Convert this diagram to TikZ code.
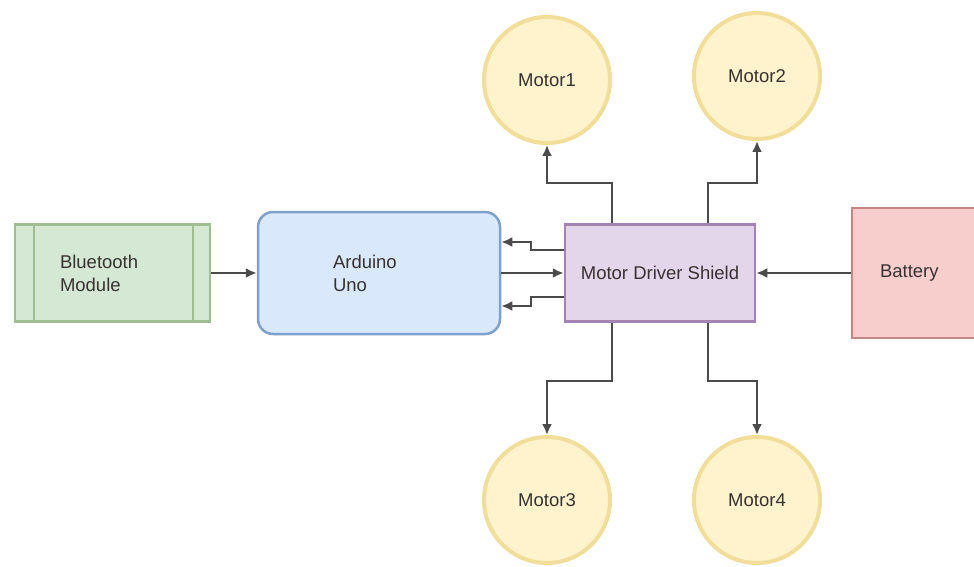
\documentclass[tikz,border=0pt]{standalone}
\usepackage{fontspec}
\setmainfont{Liberation Sans}
\usepackage{xcolor}
\definecolor{GreenFill}{RGB}{213,232,212}
\definecolor{GreenLine}{RGB}{160,190,145}
\definecolor{BlueFill}{RGB}{218,232,252}
\definecolor{BlueLine}{RGB}{125,160,205}
\definecolor{PurpleFill}{RGB}{228,214,234}
\definecolor{PurpleLine}{RGB}{165,130,180}
\definecolor{RedFill}{RGB}{248,206,204}
\definecolor{RedLine}{RGB}{195,135,132}
\definecolor{YellowFill}{RGB}{255,243,206}
\definecolor{YellowLine}{RGB}{242,222,155}
\definecolor{TextCol}{RGB}{55,50,50}
\definecolor{EdgeCol}{RGB}{75,75,75}
\usepackage{tikz}
\usetikzlibrary{arrows.meta}
\tikzstyle{Label}=[font=\fontsize{18.5}{23}\selectfont,text=TextCol]
\tikzstyle{Block}=[Label,rectangle,line width=2.5pt,align=left,inner ysep=0pt]
\tikzstyle{Motor}=[Label,circle,draw=YellowLine,fill=YellowFill,line width=4pt,
minimum size=126pt,inner sep=0pt]
\tikzstyle{Edge}=[draw=EdgeCol,line width=2.2pt,-{Latex[length=11pt,width=10pt]}]

\begin{document}
\begin{tikzpicture}[x=1pt,y=1pt]
        \useasboundingbox(0,0)rectangle(974,566);
        \node[Block,draw=GreenLine,fill=GreenFill,text width=105pt,inner xsep=45pt,
            minimum height=97pt](BT)at(112.5,293){Bluetooth\\Module};
        \draw[GreenLine,line width=2pt]([xshift=20pt]BT.north west)
            --([xshift=20pt]BT.south west);
        \draw[GreenLine,line width=2pt]([xshift=-18pt]BT.north east)
            --([xshift=-18pt]BT.south east);
        \node[Block,draw=BlueLine,fill=BlueFill,rounded corners=15pt,text width=92pt,
            inner xsep=75pt,minimum height=122pt](ARD)at(379,293){Arduino\\Uno};
        \node[Block,draw=PurpleLine,fill=PurpleFill,align=center,inner xsep=0pt,
            minimum width=190pt,minimum height=97pt](MDS)at(660,293)
            {Motor Driver Shield};
        \node[Block,draw=RedLine,fill=RedFill,text width=94pt,inner xsep=28pt,
            minimum height=130pt](BAT)at(927,293){Battery};
        \node[Motor](M1)at(547,486){Motor1};
        \node[Motor](M2)at(757,490){Motor2};
        \node[Motor](M3)at(547,66){Motor3};
        \node[Motor](M4)at(757,66){Motor4};
        \draw[Edge](BT.east)--(ARD.west);
        \draw[Edge](ARD.east)--(MDS.west);
        \draw[Edge]([yshift=23pt]MDS.west)--++(-33,0)|-([yshift=31pt]ARD.east);
        \draw[Edge]([yshift=-24pt]MDS.west)--++(-33,0)|-([yshift=-33pt]ARD.east);
        \draw[Edge](BAT.west)--(MDS.east);
        \draw[Edge]([xshift=-48pt]MDS.north)--++(0,40)-|(M1.south);
        \draw[Edge]([xshift=48pt]MDS.north)--++(0,40)-|(M2.south);
        \draw[Edge]([xshift=-48pt]MDS.south)--++(0,-58)-|(M3.north);
        \draw[Edge]([xshift=48pt]MDS.south)--++(0,-58)-|(M4.north);
    \end{tikzpicture}
\end{document}
